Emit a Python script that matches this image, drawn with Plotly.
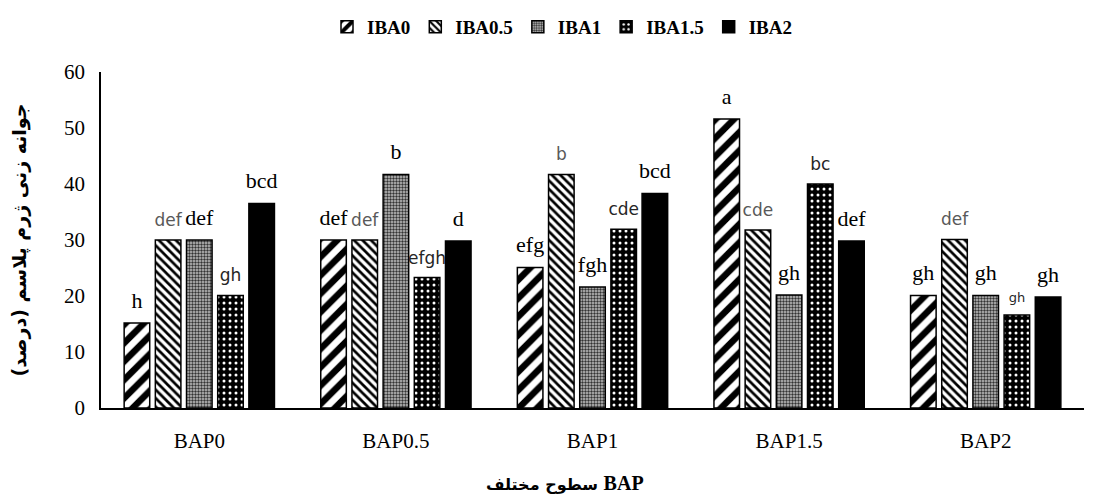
import plotly.graph_objects as go

categories = ["BAP0", "BAP0.5", "BAP1", "BAP1.5", "BAP2"]
series_names = ["IBA0", "IBA0.5", "IBA1", "IBA1.5", "IBA2"]

iba0 = [15.2, 30.0, 25.1, 51.6, 20.1]
iba05 = [30.0, 30.0, 41.7, 31.8, 30.1]
iba1 = [30.0, 41.7, 21.6, 20.2, 20.1]
iba15 = [20.1, 23.3, 31.9, 40.0, 16.6]
iba2 = [36.5, 29.8, 38.3, 29.8, 19.8]

labels_iba0 = ["h", "def", "efg", "a", "gh"]
labels_iba05 = ["def", "def", "b", "cde", "def"]
labels_iba1 = ["def", "b", "fgh", "gh", "gh"]
labels_iba15 = ["gh", "efgh", "cde", "bc", "gh"]
labels_iba2 = ["bcd", "d", "bcd", "def", "gh"]

y_ticks = [0, 10, 20, 30, 40, 50, 60]

values = [iba0, iba05, iba1, iba15, iba2]
labels = [labels_iba0, labels_iba05, labels_iba1, labels_iba15, labels_iba2]

SERIF = "Liberation Serif, Times New Roman, Times, serif"
SANS = "DejaVu Sans, sans-serif"

label_family = [SERIF, SANS, SERIF, SANS, SERIF]
label_color = ["#000000", "#595959", "#000000", "#262626", "#000000"]
label_sizes = [22, 17, 22, [17, 17, 17, 17, 13], 22]

patterns = [
    dict(shape="/", fgcolor="#000000", bgcolor="#ffffff", size=13, solidity=0.5, fgopacity=1),
    dict(shape="\\", fgcolor="#000000", bgcolor="#ffffff", size=6, solidity=0.45, fgopacity=1),
    dict(shape=".", fgcolor="#333333", bgcolor="#c4c4c4", size=3, solidity=0.5, fgopacity=1),
    dict(shape=".", fgcolor="#ffffff", bgcolor="#000000", size=6, solidity=0.2, fgopacity=1),
    None,
]

fig = go.Figure()
for i, name in enumerate(series_names):
    if patterns[i] is None:
        marker = dict(color="#000000", line=dict(color="#000000", width=1.5))
    else:
        marker = dict(color=patterns[i]["bgcolor"], pattern=patterns[i],
                      line=dict(color="#000000", width=1.5))
    fig.add_trace(go.Bar(
        x=categories, y=values[i], name=name, marker=marker,
        offsetgroup=str(i), alignmentgroup="a",
    ))

for i, name in enumerate(series_names):
    fig.add_trace(go.Scatter(
        x=categories, y=values[i], mode="markers+text", text=labels[i],
        textposition="top center",
        textfont=dict(family=label_family[i], color=label_color[i], size=label_sizes[i]),
        marker=dict(size=14, opacity=0),
        offsetgroup=str(i), alignmentgroup="a",
        showlegend=False, hoverinfo="skip", cliponaxis=False,
    ))

fig.update_layout(
    width=1108, height=495,
    barmode="group", scattermode="group",
    bargap=0.207, bargroupgap=0.18, scattergap=0.207,
    plot_bgcolor="#ffffff", paper_bgcolor="#ffffff",
    margin=dict(l=93, r=32, t=64, b=95),
    font=dict(family=SERIF, color="#000000", size=19),
    showlegend=True,
    legend=dict(
        orientation="h", xref="container", yref="container",
        x=0.5, xanchor="center", y=1.0, yanchor="top",
        font=dict(family=SERIF, size=19, color="#000000", weight="bold"),
        itemwidth=30, tracegroupgap=0,
    ),
    xaxis=dict(
        type="category", range=[-0.5, 4.5],
        showline=True, linecolor="#000000", linewidth=1.5,
        ticks="", showgrid=False,
        tickfont=dict(family=SERIF, size=21, color="#000000"),
        ticklabelstandoff=13,
    ),
    yaxis=dict(
        range=[0, 60], tickvals=y_ticks,
        showline=True, linecolor="#000000", linewidth=1.5,
        ticks="", showgrid=False, zeroline=False,
        tickfont=dict(family=SERIF, size=21, color="#000000"),
        ticklabelstandoff=10,
    ),
    annotations=[
        dict(text="<span style='font-family:DejaVu Sans'>سطوح مختلف</span> <span style='font-family:Liberation Serif; font-size:20px'>BAP</span>",
             xref="paper", yref="paper",
             x=0.472, y=-0.222, xanchor="center", yanchor="middle", showarrow=False,
             font=dict(family="DejaVu Sans", size=16, color="#000000", weight="bold")),
        dict(text="جوانه زنی ژرم پلاسم (درصد)", xref="paper", yref="paper",
             x=-0.083, y=0.5, xanchor="center", yanchor="middle", showarrow=False,
             textangle=-90,
             font=dict(family="DejaVu Sans", size=19, color="#000000", weight="bold")),
    ],
)

fig.write_html("out.html")
